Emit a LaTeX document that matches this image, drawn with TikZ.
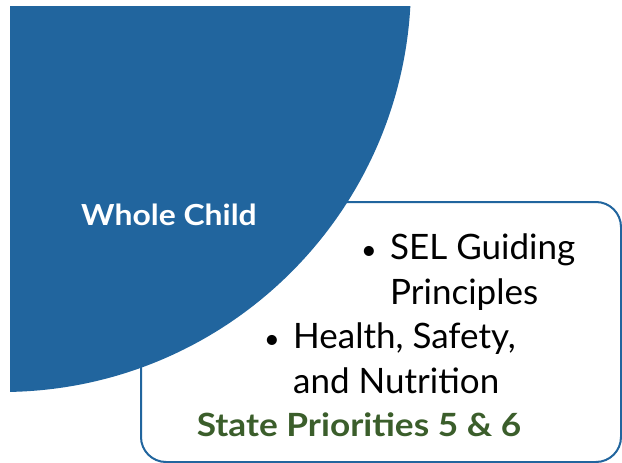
\documentclass[tikz,border=0pt]{standalone}
\usepackage{fontspec}
\setmainfont{Lato}
\newfontfamily\widebold{Lato}[FakeStretch=1.1]
\usetikzlibrary{positioning}
\definecolor{childblue}{RGB}{33,101,158}
\definecolor{prioritygreen}{RGB}{59,94,43}
\tikzset{
x=1pt, y=-1pt, % one unit is one pixel, y runs downwards
frame/.style={draw=childblue, line width=2pt, rounded corners=25pt}, % the outlined box
item/.style={anchor=base west, inner sep=0pt, font=\fontsize{35}{42}\selectfont}, % bullet text
dot/.style={anchor=base, inner sep=0pt, font=\fontsize{27}{32}\selectfont},
}

\begin{document}
\begin{tikzpicture}
\useasboundingbox (0,0) rectangle (622,463);
\fill[white] (0,0) rectangle (622,463);
\draw[frame] (141,202) rectangle (621,462);
\begin{scope}
\clip (10,6) rectangle (622,463);
\fill[childblue] (2,-17) circle[radius=409pt];
\end{scope}
\node[anchor=base, inner sep=0pt, text=white, font=\fontsize{29}{35}\widebold\bfseries\selectfont] (whole) at (169,225) {Whole Child};
\node[item] (sel) at (390,259) {SEL Guiding};
\node[dot] (b1) at ([xshift=-21pt]sel.base west) {\textbullet};
\node[item] (principles) at (390,304) {Principles};
\node[item] (health) at (293,348) {Health, Safety,};
\node[dot] (b2) at ([xshift=-21pt]health.base west) {\textbullet};
\node[item] (nutrition) at (293,393) {and Nutrition};
\node[anchor=base, inner sep=0pt, text=prioritygreen, font=\fontsize{32}{38}\widebold\bfseries\selectfont] (state) at (359,436) {State Priorities 5 \& 6};
\end{tikzpicture}
\end{document}
